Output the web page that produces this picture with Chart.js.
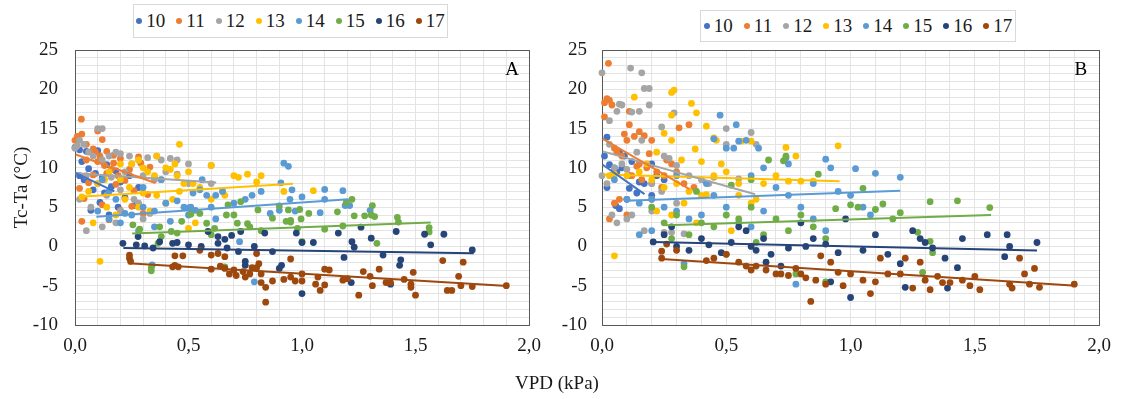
<!DOCTYPE html>
<html>
<head>
<meta charset="utf-8">
<script src="https://cdn.jsdelivr.net/npm/chart.js@4.4.1/dist/chart.umd.min.js"></script>
<style>
  body { margin: 0; background: #fff; width: 1121px; height: 399px; position: relative; overflow: hidden;
         font-family: "Liberation Serif", "Times New Roman", serif; color: #1a1a1a; }
  .panel { position: absolute; top: 0; }
  .legend { position: absolute; border: 1px solid #d9d9d9; box-sizing: border-box; display: flex;
            align-items: center; justify-content: center; font-size: 19px; background: #fff; }
  .legend .item { display: flex; align-items: center; margin: 0 5.5px; }
  .legend i { display: inline-block; width: 6px; height: 6px; border-radius: 50%; margin-right: 4px; }
  #xtitle { position: absolute; left: 457px; width: 200px; top: 372px; text-align: center; font-size: 19px; }
</style>
</head>
<body>
<canvas id="chartA" class="panel" style="left:0" width="560" height="399"></canvas>
<canvas id="chartB" class="panel" style="left:560px" width="561" height="399"></canvas>
<div id="legendA" class="legend" style="left:133px;top:4px;width:315px;height:34px"></div>
<div id="legendB" class="legend" style="left:700px;top:10px;width:316px;height:32px"></div>
<div id="xtitle">VPD (kPa)</div>
<script>
const seriesNames = ['10', '11', '12', '13', '14', '15', '16', '17'];
const colors = ['#4472C4', '#ED7D31', '#A5A5A5', '#FFC000', '#5B9BD5', '#70AD47', '#264478', '#9E480E'];
const xTicks = [0, 0.5, 1, 1.5, 2];
const yTicks = [-10, -5, 0, 5, 10, 15, 20, 25];

// panel A, [VPD, Tc-Ta]
const A10 = [[0.0,12.6],[0.02,12.3],[0.05,12.1],[0.1,12.2],[0.03,10.8],[0.06,9.9],[0.09,9.3],[0.12,8.8],[0.04,8.5],[0.08,7.2],[0.16,7.6],[0.13,6.8],[0.2,8.2],[0.22,6.2],[0.18,9.6],[0.24,9.0],[0.11,5.6],[0.07,4.6],[0.15,4.0],[0.26,5.2],[0.02,9.0],[0.14,10.4],[0.19,5.0],[0.28,7.5]];
const A11 = [[0.028,16.2],[0.01,14.0],[0.03,14.3],[0.1,14.7],[0.12,13.6],[0.0,13.5],[0.05,13.0],[0.08,12.4],[0.14,12.1],[0.17,11.6],[0.2,11.2],[0.1,10.8],[0.13,10.3],[0.16,9.8],[0.14,9.3],[0.19,9.0],[0.24,9.8],[0.29,10.6],[0.33,10.1],[0.28,11.4],[0.22,8.4],[0.06,8.1],[0.02,7.4],[0.04,6.1],[0.12,5.3],[0.2,4.6],[0.15,3.4],[0.03,3.2],[0.25,5.1],[0.3,4.2],[0.18,7.9],[0.26,7.1],[0.32,6.6],[0.08,9.1],[0.11,11.5],[0.17,10.6],[0.09,12.0],[0.05,11.0],[0.35,8.8]];
const A12 = [[0.0,12.5],[0.02,13.5],[0.01,12.8],[0.04,13.0],[0.1,15.0],[0.12,15.0],[0.06,12.0],[0.08,11.5],[0.12,11.0],[0.15,11.5],[0.18,12.0],[0.2,11.8],[0.24,11.5],[0.28,11.0],[0.32,11.3],[0.36,11.5],[0.38,11.0],[0.42,11.2],[0.45,11.0],[0.5,10.5],[0.6,10.3],[0.25,10.5],[0.22,9.5],[0.3,9.0],[0.16,8.8],[0.1,8.0],[0.2,7.2],[0.14,6.5],[0.26,6.0],[0.07,5.0],[0.02,6.0],[0.2,4.5],[0.3,3.5],[0.05,2.0],[0.12,2.5],[0.18,3.0],[0.4,9.5],[0.35,8.5],[0.45,9.2],[0.5,8.0],[0.28,5.5],[0.33,4.2],[0.05,9.0],[0.6,8.0]];
const A13 = [[0.11,-1.9],[0.03,6.3],[0.06,7.0],[0.1,8.0],[0.15,9.5],[0.2,8.5],[0.25,10.5],[0.28,11.0],[0.3,10.0],[0.32,9.5],[0.35,9.0],[0.38,8.5],[0.4,10.0],[0.42,9.8],[0.44,10.5],[0.45,9.0],[0.46,13.0],[0.48,8.0],[0.5,9.5],[0.52,8.0],[0.55,7.5],[0.6,10.3],[0.65,7.0],[0.7,9.0],[0.72,8.8],[0.8,8.2],[0.82,9.0],[0.92,7.0],[0.22,6.0],[0.28,5.0],[0.33,4.5],[0.36,6.5],[0.4,5.5],[0.43,6.0],[0.5,2.3],[0.53,3.0],[0.14,5.0],[0.18,4.0],[0.08,3.0],[0.6,6.0],[0.66,6.5],[0.76,9.2],[0.24,7.5],[0.3,6.8],[0.13,8.5],[0.46,7.0],[0.2,10.5],[0.36,11.5],[1.05,7.1]];
const A14 = [[0.92,10.6],[0.94,10.2],[0.907,8.1],[0.956,7.2],[1.0,6.3],[1.1,7.25],[1.18,7.1],[1.21,5.2],[1.3,4.6],[1.1,6.0],[1.08,4.3],[0.947,6.0],[0.1,4.5],[0.15,3.5],[0.2,3.0],[0.25,4.0],[0.3,5.0],[0.35,4.5],[0.4,5.5],[0.42,3.2],[0.45,5.8],[0.48,5.0],[0.5,4.9],[0.52,6.8],[0.55,7.2],[0.58,6.5],[0.6,5.0],[0.62,6.5],[0.65,7.0],[0.7,5.5],[0.75,6.0],[0.78,6.5],[0.82,7.0],[0.9,4.6],[0.97,4.5],[1.19,5.2],[0.35,2.5],[0.22,4.2],[0.3,7.5],[0.38,8.5],[0.5,4.0],[0.62,3.5],[0.725,0.6],[0.34,-2.35],[0.79,-4.5],[0.15,7.0],[0.56,8.5],[0.86,4.2],[0.28,2.0],[0.18,6.0],[0.12,8.5],[0.51,5.0],[0.53,4.6]];
const A15 = [[0.255,2.75],[0.285,2.2],[0.373,2.5],[0.424,1.9],[0.45,1.7],[0.51,4.1],[0.55,4.2],[0.58,2.95],[0.615,2.3],[0.667,4.0],[0.7,4.0],[0.674,5.3],[0.73,5.7],[0.76,2.9],[0.715,2.96],[0.77,2.5],[0.806,4.65],[0.87,3.6],[0.9,5.16],[0.93,3.2],[0.94,4.65],[0.95,3.1],[0.98,2.3],[1.1,2.2],[1.18,2.6],[1.195,5.6],[1.22,6.0],[1.276,3.9],[1.305,4.0],[1.32,3.8],[1.31,5.2],[1.42,3.7],[1.425,3.1],[1.56,2.4],[1.56,1.85],[1.33,0.4],[0.366,0.4],[0.38,1.25],[0.336,-2.7],[0.336,-3.1],[0.99,4.7],[1.03,4.2],[1.156,4.4],[1.23,3.9],[0.95,3.3],[0.996,3.5],[0.6,1.5],[0.82,2.0],[0.66,-2.6],[1.0,0.6],[0.47,3.2]];
const A16 = [[0.211,0.4],[0.278,1.25],[0.27,0.2],[0.307,0.06],[0.344,-0.2],[0.373,0.6],[0.43,0.4],[0.45,0.5],[0.5,0.2],[0.556,0.0],[0.586,1.9],[0.63,1.25],[0.66,0.9],[0.69,1.4],[0.73,1.9],[0.63,0.4],[0.67,-0.2],[0.72,-0.66],[0.75,-1.9],[0.79,0.0],[0.836,1.7],[0.87,-0.66],[0.91,-2.4],[0.975,1.7],[1.0,0.5],[1.05,0.5],[1.0,-6.0],[1.16,1.7],[1.185,-1.4],[1.22,0.6],[1.23,-0.1],[1.217,-4.6],[1.26,2.45],[1.305,1.05],[1.357,-1.1],[1.39,-4.8],[1.435,-1.7],[1.415,1.9],[1.54,1.55],[1.625,1.55],[1.567,0.2],[1.75,-0.45],[0.75,-2.4],[0.9,-2.8],[1.43,-2.4]];
const A17 = [[0.24,-1.1],[0.24,-1.5],[0.245,-1.9],[0.44,-1.2],[0.475,-1.2],[0.44,-2.4],[0.455,-2.6],[0.43,-2.6],[0.55,-0.5],[0.6,-1.1],[0.63,-0.9],[0.66,-1.3],[0.6,-2.9],[0.64,-2.5],[0.66,-2.8],[0.68,-3.5],[0.7,-3.0],[0.71,-3.7],[0.74,-3.2],[0.75,-3.9],[0.77,-3.5],[0.78,-2.7],[0.8,-2.7],[0.8,-0.9],[0.81,-2.2],[0.82,-3.5],[0.82,-4.6],[0.84,-5.2],[0.84,-7.1],[0.87,-4.4],[0.92,-4.2],[0.95,-3.9],[0.95,-1.6],[0.97,-4.4],[1.0,-3.5],[1.0,-4.4],[1.06,-4.8],[1.07,-3.9],[1.08,-5.6],[1.1,-4.9],[1.1,-2.9],[1.12,-3.0],[1.18,-4.3],[1.2,-4.1],[1.25,-6.2],[1.27,-3.2],[1.3,-3.8],[1.31,-5.0],[1.34,-2.9],[1.37,-4.6],[1.39,-4.6],[1.45,-4.2],[1.48,-4.8],[1.48,-5.2],[1.49,-3.3],[1.5,-6.2],[1.62,-1.8],[1.64,-5.6],[1.66,-5.6],[1.69,-3.8],[1.7,-5.0],[1.71,-2.0],[1.75,-5.1],[1.9,-5.0]];

// panel B
const B10 = [[0.01,11.5],[0.02,13.9],[0.03,10.4],[0.05,10.0],[0.06,9.5],[0.08,10.0],[0.11,9.0],[0.11,7.4],[0.15,8.2],[0.17,8.0],[0.2,6.5],[0.055,5.2],[0.07,4.8],[0.02,7.5],[0.1,6.0],[0.22,9.0],[0.2,10.5],[0.12,10.8],[0.09,11.5],[0.04,9.0],[0.07,12.0],[0.25,8.5],[0.14,6.8]];
const B11 = [[0.026,23.3],[0.01,18.3],[0.02,18.8],[0.03,18.6],[0.04,18.0],[0.01,16.5],[0.11,17.2],[0.11,15.5],[0.09,14.3],[0.15,14.6],[0.17,14.1],[0.31,15.1],[0.35,15.5],[0.1,13.5],[0.13,14.0],[0.2,13.5],[0.05,12.5],[0.08,11.5],[0.15,10.5],[0.18,10.0],[0.22,9.5],[0.12,9.0],[0.16,8.5],[0.2,8.0],[0.25,9.0],[0.28,10.5],[0.33,8.0],[0.07,6.0],[0.05,5.5],[0.03,3.5],[0.1,4.0],[0.2,6.0],[0.24,7.5],[0.14,10.2],[0.06,12.0],[0.19,11.8],[0.26,11.0],[0.3,9.5],[0.37,7.5]];
const B12 = [[0.0,22.1],[0.115,22.7],[0.16,22.1],[0.17,20.1],[0.19,20.1],[0.07,18.1],[0.08,18.0],[0.19,18.0],[0.29,17.0],[0.12,17.1],[0.15,17.2],[0.06,17.2],[0.03,16.0],[0.24,15.2],[0.5,15.0],[0.6,14.5],[0.16,13.5],[0.03,13.0],[0.0,9.0],[0.02,8.0],[0.05,10.0],[0.08,10.5],[0.1,9.8],[0.14,12.0],[0.25,11.5],[0.27,11.2],[0.3,10.3],[0.35,9.0],[0.4,8.5],[0.45,8.8],[0.55,8.6],[0.2,8.0],[0.24,7.0],[0.3,5.5],[0.06,3.0],[0.1,3.5],[0.12,4.0],[0.2,4.5],[0.25,1.8],[0.28,1.8],[0.33,1.6],[0.17,2.0],[0.04,4.0],[0.43,8.0],[0.5,13.0],[0.62,13.0]];
const B13 = [[0.13,19.0],[0.28,19.6],[0.29,19.9],[0.36,18.2],[0.38,17.0],[0.28,16.7],[0.25,14.4],[0.42,15.3],[0.45,13.8],[0.56,13.4],[0.6,13.4],[0.28,13.5],[0.375,12.4],[0.46,13.5],[0.74,12.6],[0.78,11.5],[0.95,12.8],[0.03,9.0],[0.05,9.2],[0.1,9.0],[0.15,9.5],[0.2,8.5],[0.25,7.5],[0.3,8.0],[0.35,7.0],[0.4,6.5],[0.42,6.6],[0.45,9.0],[0.5,9.5],[0.55,8.0],[0.6,5.5],[0.62,6.0],[0.65,8.0],[0.7,9.0],[0.75,8.3],[0.8,8.3],[0.85,8.3],[0.22,4.5],[0.28,4.0],[0.33,5.5],[0.38,3.0],[0.52,2.0],[0.05,-1.2],[0.18,10.5],[0.22,12.0],[0.32,11.0],[0.4,10.8],[0.48,10.5],[0.55,6.5]];
const B14 = [[0.475,16.7],[0.54,15.5],[0.55,13.4],[0.45,13.7],[0.5,12.5],[0.53,12.5],[0.58,13.5],[0.63,12.5],[0.74,11.3],[0.75,10.5],[0.9,11.1],[1.02,9.9],[1.1,9.3],[1.2,8.8],[0.1,6.0],[0.15,5.5],[0.2,6.0],[0.25,5.0],[0.3,4.5],[0.35,3.5],[0.4,4.0],[0.45,6.5],[0.5,5.0],[0.55,3.0],[0.6,2.5],[0.65,4.5],[0.7,7.5],[0.75,6.5],[0.8,5.0],[0.85,3.5],[0.9,2.0],[0.95,7.0],[1.0,6.5],[1.05,5.0],[1.08,4.0],[0.15,1.5],[0.2,2.0],[0.33,-2.2],[0.78,-4.8],[0.6,9.0],[0.42,8.0],[0.3,9.0],[0.05,8.5],[0.65,10.0],[0.85,8.0],[0.92,10.0]];
const B15 = [[0.67,11.0],[0.73,10.9],[0.74,11.5],[0.87,9.2],[1.05,7.4],[0.94,4.8],[1.0,5.3],[1.03,5.0],[1.13,5.4],[1.1,4.7],[1.2,4.3],[1.32,5.7],[1.43,5.8],[1.56,4.95],[1.27,1.8],[1.32,0.65],[1.33,-0.8],[1.29,-3.3],[0.2,5.0],[0.25,3.0],[0.3,4.0],[0.35,1.5],[0.4,3.0],[0.45,2.5],[0.5,4.0],[0.55,3.5],[0.6,5.0],[0.65,1.5],[0.7,3.5],[0.75,2.0],[0.8,4.0],[0.85,2.5],[0.9,1.0],[0.28,1.0],[0.33,-2.6],[0.5,-1.0],[0.62,0.5],[0.78,-3.5],[0.9,-4.5],[0.38,7.0],[0.52,7.8],[0.6,8.5],[1.17,3.5]];
const B16 = [[0.206,0.57],[0.25,1.5],[0.28,2.5],[0.3,0.0],[0.35,-0.5],[0.4,1.0],[0.43,0.2],[0.48,-0.8],[0.52,0.5],[0.55,2.5],[0.58,2.0],[0.6,0.0],[0.62,-0.5],[0.65,1.0],[0.68,-1.0],[0.72,-2.5],[0.75,-0.2],[0.8,3.0],[0.85,1.0],[0.9,0.3],[0.92,-4.5],[0.95,-0.8],[1.0,-6.5],[1.05,-0.5],[1.1,1.5],[1.15,-1.0],[1.2,-2.2],[1.22,-5.2],[1.25,2.0],[1.28,1.0],[1.3,0.5],[1.33,-0.2],[1.38,-1.5],[1.39,-5.3],[1.43,-2.7],[1.45,1.0],[1.55,1.5],[1.63,1.5],[1.64,0.0],[1.75,0.5],[1.62,-1.3],[0.66,-2.0],[0.82,0.0],[0.98,3.5]];
const B17 = [[0.24,-0.6],[0.24,-1.5],[0.26,0.3],[0.3,-0.5],[0.42,-1.8],[0.45,-1.5],[0.5,-1.0],[0.55,-2.0],[0.58,-2.5],[0.6,-3.0],[0.62,-2.5],[0.66,-3.0],[0.7,-3.5],[0.72,-3.5],[0.75,-3.7],[0.78,-2.8],[0.8,-3.5],[0.82,-4.0],[0.84,-7.0],[0.86,-4.3],[0.9,-4.8],[0.92,-2.0],[0.95,-3.3],[0.97,-5.0],[1.0,-3.5],[1.05,-4.3],[1.08,-6.0],[1.1,-4.5],[1.12,-1.5],[1.15,-3.5],[1.2,-3.5],[1.25,-5.3],[1.28,-2.0],[1.3,-4.3],[1.32,-5.5],[1.35,-3.8],[1.37,-4.6],[1.4,-4.6],[1.45,-4.3],[1.48,-5.0],[1.5,-3.8],[1.52,-5.5],[1.64,-4.8],[1.65,-5.3],[1.68,-1.5],[1.7,-3.5],[1.72,-4.8],[1.74,-2.8],[1.76,-5.2],[1.9,-4.8],[0.88,-1.2],[1.22,-1.5]];

// linear trend lines [x1, y1, x2, y2], one per series
const trendA = [[0.0,9.4,0.173,7.0],[0.003,11.7,0.354,8.07],[0.0,9.3,0.622,8.15],[0.039,6.35,0.96,7.98],[0.094,3.78,1.205,6.0],[0.252,1.63,1.567,3.05],[0.213,-0.21,1.756,-0.86],[0.233,-2.15,1.906,-5.04]];
const trendB = [[0.003,10.4,0.171,6.65],[0.003,13.7,0.352,7.3],[0.003,12.1,0.616,6.65],[0.006,9.14,0.956,8.28],[0.098,5.8,1.2,7.08],[0.257,2.7,1.565,4.0],[0.205,0.56,1.75,-0.52],[0.238,-1.59,1.907,-5.0]];

const pointsA = [A10, A11, A12, A13, A14, A15, A16, A17];
const pointsB = [B10, B11, B12, B13, B14, B15, B16, B17];

const serif = '"Liberation Serif", "Times New Roman", serif';

const frame = {
  id: 'frame',
  beforeDatasetsDraw(chart) {
    const {ctx, chartArea: a} = chart;
    ctx.save();
    ctx.strokeStyle = '#595959';
    ctx.lineWidth = 1;
    ctx.strokeRect(Math.round(a.left) + 0.5, Math.round(a.top) + 0.5, Math.round(a.right - a.left), Math.round(a.bottom - a.top));
    ctx.restore();
  },
  afterDraw(chart, args, o) {
    const {ctx, chartArea: a} = chart;
    ctx.save();
    ctx.fillStyle = '#000';
    ctx.font = '19px ' + serif;
    ctx.textAlign = 'right';
    ctx.textBaseline = 'middle';
    ctx.fillText(o.letter, a.right - o.dx, a.top + 20);
    ctx.restore();
  }
};

function buildDatasets(points, trends) {
  const sets = [];
  trends.forEach((t, i) => {
    sets.push({
      data: [{x: t[0], y: t[1]}, {x: t[2], y: t[3]}],
      showLine: true,
      borderColor: colors[i],
      borderWidth: 2,
      pointRadius: 0,
      order: 0
    });
  });
  points.forEach((pts, i) => {
    sets.push({
      label: seriesNames[i],
      data: pts.map(p => ({x: p[0], y: p[1]})),
      backgroundColor: colors[i],
      borderWidth: 0,
      pointRadius: 3.4,
      order: 20 - i,
      clip: 6
    });
  });
  return sets;
}

function makeChart(id, points, trends, o) {
  return new Chart(document.getElementById(id), {
    type: 'scatter',
    data: { datasets: buildDatasets(points, trends) },
    options: {
      responsive: false,
      animation: false,
      devicePixelRatio: 1,
      layout: { padding: { top: 50, right: o.padRight, bottom: 44, left: 0 } },
      plugins: {
        legend: { display: false },
        tooltip: { enabled: false },
        frame: { letter: o.letter, dx: o.letterDx }
      },
      scales: {
        x: {
          type: 'linear', min: 0, max: 2,
          grid: { color: '#e4e4e4', drawTicks: false },
          border: { display: false },
          afterFit: s => { s.height = 30; },
          ticks: {
            stepSize: 0.1, autoSkip: false, maxRotation: 0, padding: 10,
            color: '#1a1a1a', font: { family: serif, size: 19 },
            callback: v => xTicks.some(t => Math.abs(t - v) < 1e-6) ? v.toFixed(1).replace('.', ',') : ''
          }
        },
        y: {
          type: 'linear', min: -10, max: 25,
          grid: { color: '#e4e4e4', drawTicks: false },
          border: { display: false },
          afterFit: s => { s.width = o.axisW; },
          title: {
            display: !!o.yTitle, text: o.yTitle, color: '#1a1a1a',
            font: { family: serif, size: 19 }, padding: { top: 11, bottom: 0 }
          },
          ticks: {
            stepSize: 1, autoSkip: false, padding: o.tickPad,
            color: '#1a1a1a', font: { family: serif, size: 19 },
            callback: v => yTicks.includes(Math.round(v)) && Math.abs(v - Math.round(v)) < 1e-6 ? String(Math.round(v)) : ''
          }
        }
      }
    },
    plugins: [frame]
  });
}

function buildLegend(id) {
  const box = document.getElementById(id);
  seriesNames.forEach((n, i) => {
    const item = document.createElement('span');
    item.className = 'item';
    const dot = document.createElement('i');
    dot.style.background = colors[i];
    item.appendChild(dot);
    item.appendChild(document.createTextNode(n));
    box.appendChild(item);
  });
}

makeChart('chartA', pointsA, trendA, { yTitle: 'Tc-Ta (°C)', axisW: 75, tickPad: 17, padRight: 31, letter: 'A', letterDx: 10 });
makeChart('chartB', pointsB, trendB, { yTitle: '', axisW: 42, tickPad: 15, padRight: 18, letter: 'B', letterDx: 12 });
buildLegend('legendA');
buildLegend('legendB');
</script>
</body>
</html>
